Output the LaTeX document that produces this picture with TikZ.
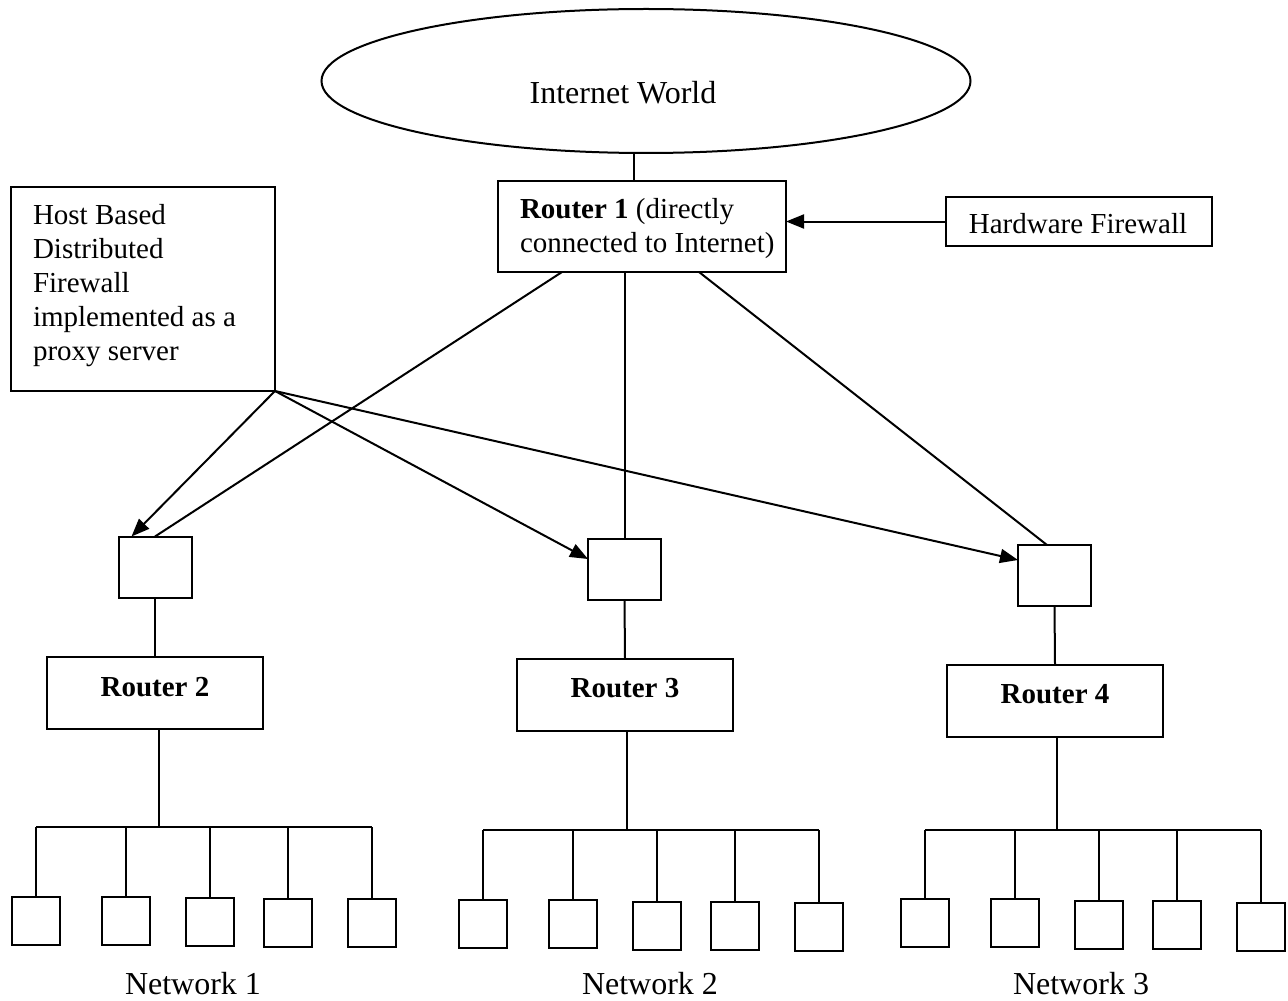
\documentclass[tikz,border=0pt]{standalone}
\usepackage{fontspec}
\setmainfont{Liberation Serif}
\usetikzlibrary{shapes.geometric,arrows.meta}
\begin{document}
\begin{tikzpicture}[x=0.5pt,y=-0.5pt,line width=1pt,
  plain/.style={draw,rectangle,inner sep=0pt,outer sep=0pt},
  pc/.style={plain,minimum width=24pt,minimum height=24pt},
  fw/.style={plain,minimum width=36.5pt,minimum height=30.5pt},
  rt/.style={plain,minimum width=108pt,minimum height=36pt},
  txt/.style={inner sep=0pt,font=\fontsize{14.5}{16.9}\selectfont},
  boldtxt/.style={inner sep=0pt,font=\fontsize{14.5}{16.9}\selectfont\bfseries},
  big/.style={inner sep=0pt,font=\fontsize{16}{19}\selectfont},
  arr/.style={-{Triangle[length=9pt,width=7pt]}}]
\fill[white] (0,0) rectangle (1288,1000);
\useasboundingbox (0,0) rectangle (1288,1000);

% top
\node[ellipse,draw,inner sep=0pt,outer sep=0pt,minimum width=324.5pt,minimum height=72pt] (inet) at (646,81) {};
\node[big,anchor=base] (inettxt) at (623,104) {Internet World};

\node[plain,minimum width=144pt,minimum height=45.5pt] (r1) at (642,226.5) {};
\node[txt,anchor=base west,align=left] (r1txt) at (519,252) {\textbf{Router 1} (directly\\connected to Internet)};

\node[plain,minimum width=133pt,minimum height=24.5pt] (hf) at (1079,221.5) {};
\node[txt,anchor=base] (hftxt) at (1078,234) {Hardware Firewall};

\node[plain,minimum width=132pt,minimum height=102pt] (host) at (143,289) {};
\node[txt,anchor=base west,align=left] (hosttxt) at (32,360) {Host Based\\Distributed\\Firewall\\implemented as a\\proxy server};

% firewall boxes
\node[fw] (b1) at (155,567) {};
\node[fw] (b2) at (624.5,569.5) {};
\node[fw] (b3) at (1054.5,575.5) {};

% routers
\node[rt] (r2) at (155,693) {};
\node[rt] (r3) at (625,695) {};
\node[rt] (r4) at (1055,701) {};
\node[boldtxt,anchor=base] (r2txt) at (155,696) {Router 2};
\node[boldtxt,anchor=base] (r3txt) at (625,697) {Router 3};
\node[boldtxt,anchor=base] (r4txt) at (1055,703) {Router 4};

% hosts
\node[pc] (a1) at (36,921) {};
\node[pc] (a2) at (126,921) {};
\node[pc] (a3) at (210,922) {};
\node[pc] (a4) at (288,922.5) {};
\node[pc] (a5) at (372,923) {};
\node[pc] (c1) at (483,923.5) {};
\node[pc] (c2) at (573,923.5) {};
\node[pc] (c3) at (657,925.5) {};
\node[pc] (c4) at (735,925.5) {};
\node[pc] (c5) at (819,926.5) {};
\node[pc] (d1) at (925,923) {};
\node[pc] (d2) at (1015,923) {};
\node[pc] (d3) at (1099,925) {};
\node[pc] (d4) at (1177,925) {};
\node[pc] (d5) at (1261,927) {};

\coordinate (bus1) at (159,827);
\coordinate (bus2) at (627,830);
\coordinate (bus3) at (1057,830);

\node[big,anchor=base] (n1) at (193,994) {Network 1};
\node[big,anchor=base] (n2) at (650,994) {Network 2};
\node[big,anchor=base] (n3) at (1081,994) {Network 3};

% connectors top
\draw ([xshift=-4pt]r1.north) -- ([xshift=-4pt]r1.north |- inet.south);
\draw[arr] (hf.west) -- (hf.west -| r1.east);
\draw ([xshift=32pt]r1.south west) -- (b1.north);
\draw (r1.south -| b2.north) -- (b2.north);
\draw ([xshift=-43.5pt]r1.south east) -- ([xshift=-3.75pt]b3.north);
\draw[arr] (host.south east) -- ([xshift=6.5pt]b1.north west);
\draw[arr] (host.south east) -- ([yshift=5.25pt]b2.west);
\draw[arr] (host.south east) -- ([yshift=7.75pt]b3.west);

\draw (b1.south) -- (r2.north);
\draw (b2.south) -- (r3.north);
\draw (b3.south) -- (r4.north);

% buses
\draw (r2.south -| bus1) -- (bus1);
\draw (r3.south -| bus2) -- (bus2);
\draw (r4.south -| bus3) -- (bus3);
\draw (a1.north |- bus1) -- (a5.north |- bus1);
\draw (c1.north |- bus2) -- (c5.north |- bus2);
\draw (d1.north |- bus3) -- (d5.north |- bus3);
\foreach \h in {a1,a2,a3,a4,a5} \draw (\h.north |- bus1) -- (\h.north);
\foreach \h in {c1,c2,c3,c4,c5} \draw (\h.north |- bus2) -- (\h.north);
\foreach \h in {d1,d2,d3,d4,d5} \draw (\h.north |- bus3) -- (\h.north);
\end{tikzpicture}
\end{document}
